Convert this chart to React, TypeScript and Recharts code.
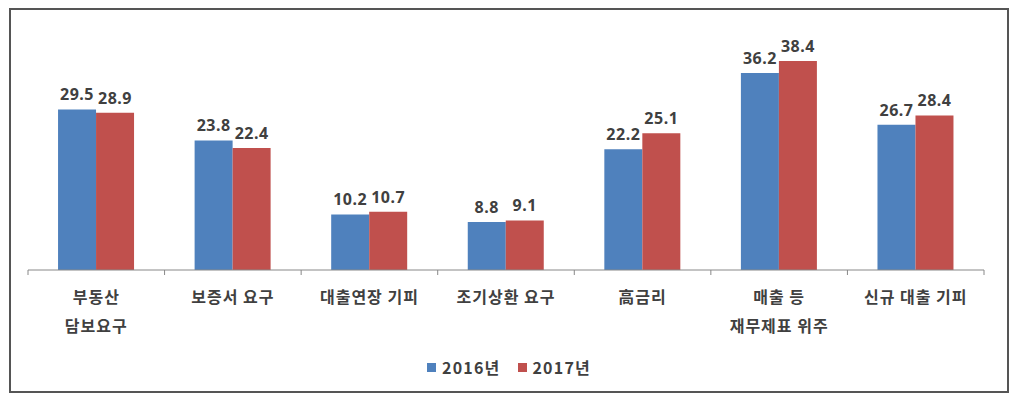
import { Bar, BarChart, LabelList, XAxis, YAxis } from "recharts";

const categories = [
  "부동산\n담보요구",
  "보증서 요구",
  "대출연장 기피",
  "조기상환 요구",
  "高금리",
  "매출 등\n재무제표 위주",
  "신규 대출 기피",
];
const values2016 = [29.5, 23.8, 10.2, 8.8, 22.2, 36.2, 26.7];
const values2017 = [28.9, 22.4, 10.7, 9.1, 25.1, 38.4, 28.4];

const data = categories.map((name, i) => ({
  name,
  y2016: values2016[i],
  y2017: values2017[i],
}));

const BLUE = "#4F81BD";
const RED = "#C0504D";
const TEXT = "#404040";
const FONT = "'Noto Sans CJK KR', 'Noto Sans', sans-serif";
const BAND = 956 / 7;

function CategoryTick(props: any) {
  const { x, y, payload, index } = props;
  const lines = String(payload.value).split("\n");
  const axisY = y - 8;
  return (
    <g>
      <line x1={x - BAND / 2} x2={x - BAND / 2} y1={axisY} y2={axisY + 5} stroke="#888" />
      {index === categories.length - 1 && (
        <line x1={x + BAND / 2} x2={x + BAND / 2} y1={axisY} y2={axisY + 5} stroke="#888" />
      )}
      <text
        x={x}
        y={axisY + 33}
        textAnchor="middle"
        fill={TEXT}
        fontSize={16}
        fontWeight="bold"
        letterSpacing={1}
        fontFamily={FONT}
      >
        {lines.map((l, i) => (
          <tspan key={i} x={x} dy={i === 0 ? 0 : 29}>
            {l}
          </tspan>
        ))}
      </text>
    </g>
  );
}

export default function App() {
  return (
    <div style={{ position: "absolute", left: 0, top: 0, width: 1024, height: 399, background: "#fff" }}>
      <div
        style={{
          position: "absolute",
          left: 9,
          top: 8,
          width: 996,
          height: 381,
          border: "2px solid #555",
        }}
      />
      <div style={{ position: "absolute", left: 0, top: 0 }}>
        <BarChart
          width={1024}
          height={399}
          data={data}
          margin={{ top: 25, right: 40, left: 28, bottom: 49 }}
          barCategoryGap="22%"
          barGap={0}
        >
          <YAxis hide domain={[0, 45]} />
          <XAxis
            dataKey="name"
            height={80}
            interval={0}
            tickLine={false}
            axisLine={{ stroke: "#888" }}
            tick={<CategoryTick />}
          />
          <Bar dataKey="y2016" fill={BLUE} isAnimationActive={false}>
            <LabelList
              dataKey="y2016"
              position="top"
              offset={9}
              fill={TEXT}
              fontSize={16}
              fontWeight="bold"
              letterSpacing={0.5}
              fontFamily="'Noto Sans', sans-serif"
            />
          </Bar>
          <Bar dataKey="y2017" fill={RED} isAnimationActive={false}>
            <LabelList
              dataKey="y2017"
              position="top"
              offset={9}
              fill={TEXT}
              fontSize={16}
              fontWeight="bold"
              letterSpacing={0.5}
              fontFamily="'Noto Sans', sans-serif"
            />
          </Bar>
        </BarChart>
      </div>
      <div
        style={{
          position: "absolute",
          left: 427,
          top: 355,
          display: "flex",
          alignItems: "center",
          fontFamily: FONT,
          fontSize: 16,
          fontWeight: "bold",
          letterSpacing: 1.2,
          color: TEXT,
        }}
      >
        <span style={{ width: 9, height: 9, background: BLUE, marginRight: 6 }} />
        <span style={{ marginRight: 18 }}>2016년</span>
        <span style={{ width: 9, height: 9, background: RED, marginRight: 5 }} />
        <span>2017년</span>
      </div>
    </div>
  );
}
